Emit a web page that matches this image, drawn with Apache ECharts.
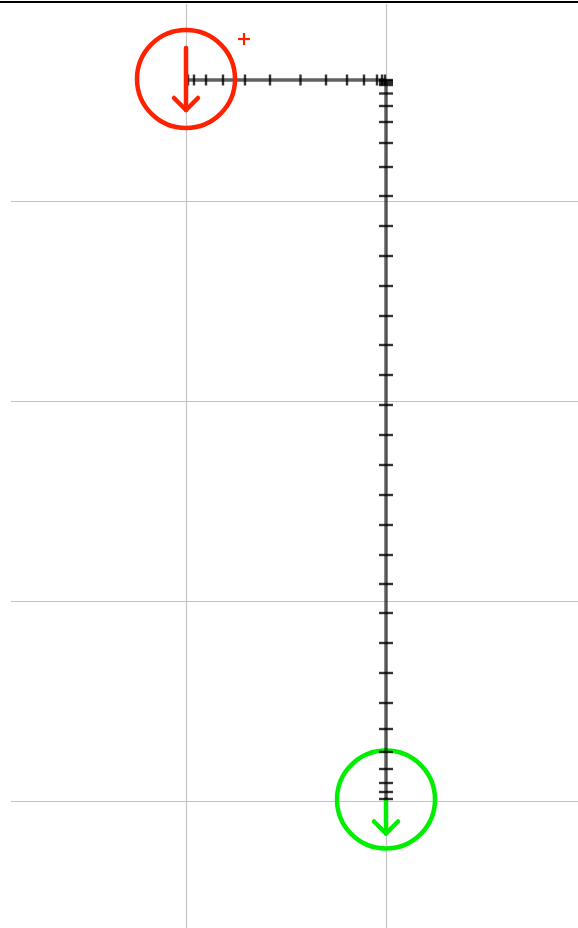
<!DOCTYPE html>
<html>
<head>
<meta charset="utf-8">
<script src="https://cdn.jsdelivr.net/npm/echarts@6/dist/echarts.min.js"></script>
<style>
  html, body { margin: 0; padding: 0; background: #fff; }
  #topLine { position: absolute; left: 0; top: 1px; width: 578px; height: 0; border-top: 2px solid #000; z-index: 2; }
  #main { position: absolute; left: 0; top: 0; width: 578px; height: 928px; }
</style>
</head>
<body>
<div id="topLine"></div>
<div id="main"></div>
<script>
// grid line positions (data units)
const xGridValues = [100, 200]
const yGridValues = [100, 200, 300, 400]

// sampled path, first the horizontal move then the vertical one
const pathH = [
  [100, 39.5], [101, 39.5], [104, 39.5], [110, 39.5], [118.5, 39.5], [129.5, 39.5],
  [142, 39.5], [157.25, 39.5], [170, 39.5], [180.5, 39.5], [189, 39.5], [195.5, 39.5],
  [198, 39.5], [199.5, 39.5],
]
const pathV = [
  [200, 39.5], [200, 40], [200, 41], [200, 42], [200, 46.25], [200, 52.5], [200, 60.5],
  [200, 71], [200, 83], [200, 97.5], [200, 112.5], [200, 127.5], [200, 142.5],
  [200, 157.5], [200, 172], [200, 187], [200, 202], [200, 217], [200, 232], [200, 247],
  [200, 262], [200, 277], [200, 291.5], [200, 306], [200, 321], [200, 336], [200, 351],
  [200, 364], [200, 375.5], [200, 384], [200, 391], [200, 395.5], [200, 399],
]

// start / end markers and the small cross
const startPoint = [100, 39]
const endPoint = [200, 399.25]
const crossPoint = [129, 19]

const red = '#ff2200'
const green = '#00ee00'

// ring with a down arrow; arrow extents are pixel offsets from the centre
const ringRenderer = (color, arrowTop, arrowBottom) => (params, api) => {
  const p = api.coord([api.value(0), api.value(1)])
  const tip = p[1] + arrowBottom
  return {
    type: 'group',
    children: [
      { type: 'circle', shape: { cx: p[0], cy: p[1], r: 49 }, style: { fill: 'none', stroke: color, lineWidth: 4.5 } },
      { type: 'line', shape: { x1: p[0], y1: p[1] + arrowTop, x2: p[0], y2: tip }, style: { stroke: color, lineWidth: 4.5, lineCap: 'round' } },
      {
        type: 'polyline',
        shape: { points: [[p[0] - 12, tip - 12], [p[0], tip], [p[0] + 12, tip - 12]] },
        style: { fill: 'none', stroke: color, lineWidth: 4.5, lineCap: 'round', lineJoin: 'round' },
      },
    ],
  }
}

const myChart = echarts.init(document.getElementById('main'))

const option = {
  animation: false,
  grid: { left: 11, top: 4, right: 0, bottom: 0 },
  xAxis: {
    type: 'value',
    min: 12.5,
    max: 296,
    axisLine: { show: false },
    axisLabel: { show: false },
    axisTick: { show: false, customValues: xGridValues },
    splitLine: { show: true, lineStyle: { color: '#c4c4c4', width: 1.2 } },
  },
  yAxis: {
    type: 'value',
    inverse: true,
    min: 1.5,
    max: 463.5,
    axisLine: { show: false },
    axisLabel: { show: false },
    axisTick: { show: false, customValues: yGridValues },
    splitLine: { show: true, lineStyle: { color: '#c4c4c4', width: 1.2 } },
  },
  series: [
    {
      // end marker sits under the path
      type: 'custom',
      z: 1,
      renderItem: ringRenderer(green, 0, 34),
      data: [endPoint],
    },
    {
      type: 'line',
      z: 2,
      data: pathH.concat(pathV),
      showSymbol: false,
      lineStyle: { color: 'rgba(0,0,0,0.62)', width: 3.5 },
    },
    {
      // ticks across the horizontal move
      type: 'scatter',
      z: 3,
      data: pathH,
      symbol: 'rect',
      symbolSize: [2.4, 11],
      itemStyle: { color: '#000' },
    },
    {
      // ticks across the vertical move
      type: 'scatter',
      z: 3,
      data: pathV,
      symbol: 'rect',
      symbolSize: [14, 2.4],
      itemStyle: { color: '#000' },
    },
    {
      type: 'custom',
      z: 4,
      renderItem: ringRenderer(red, -31, 31),
      data: [startPoint],
    },
    {
      type: 'custom',
      z: 4,
      renderItem: (params, api) => {
        const p = api.coord([api.value(0), api.value(1)])
        return {
          type: 'group',
          children: [
            { type: 'line', shape: { x1: p[0] - 6, y1: p[1], x2: p[0] + 6, y2: p[1] }, style: { stroke: red, lineWidth: 2.2 } },
            { type: 'line', shape: { x1: p[0], y1: p[1] - 6, x2: p[0], y2: p[1] + 6 }, style: { stroke: red, lineWidth: 2.2 } },
          ],
        }
      },
      data: [crossPoint],
    },
  ],
}

myChart.setOption(option)
</script>
</body>
</html>
